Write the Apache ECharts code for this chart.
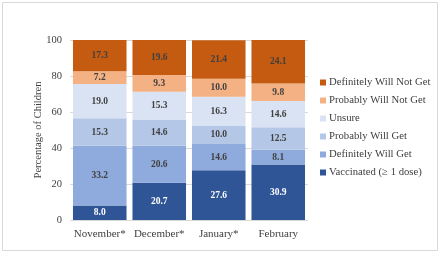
<!DOCTYPE html>
<html><head><meta charset="utf-8">
<script src="https://cdn.jsdelivr.net/npm/echarts@6/dist/echarts.min.js"></script>
<style>html,body{margin:0;padding:0;background:#fff}#c{width:440px;height:253px}</style>
</head><body><div id="c"></div>
<script>
var categories = ['November*', 'December*', 'January*', 'February'];
var seriesNames = ['Vaccinated (\u2265 1 dose)', 'Definitely Will Get', 'Probably Will Get', 'Unsure', 'Probably Will Not Get', 'Definitely Will Not Get'];
var vaccinated = [8.0, 20.7, 27.6, 30.9];
var definitelyWillGet = [33.2, 20.6, 14.6, 8.1];
var probablyWillGet = [15.3, 14.6, 10.0, 12.5];
var unsure = [19.0, 15.3, 16.3, 14.6];
var probablyWillNotGet = [7.2, 9.3, 10.0, 9.8];
var definitelyWillNotGet = [17.3, 19.6, 21.4, 24.1];
var yTicks = [0, 20, 40, 60, 80, 100];

var values = [vaccinated, definitelyWillGet, probablyWillGet, unsure, probablyWillNotGet, definitelyWillNotGet];
var colors = ['#2F5597', '#8FAADC', '#B4C7E7', '#DAE3F3', '#F4B183', '#C55A11'];
var labelColors = ['#ffffff', '#404040', '#404040', '#404040', '#404040', '#404040'];
var font = '"Liberation Serif", "DejaVu Serif", serif';

var chart = echarts.init(document.getElementById('c'));
chart.setOption({
  animation: false,
  textStyle: {fontFamily: font},
  graphic: [{type: 'rect', shape: {x: 2.5, y: 2.5, width: 435, height: 248}, style: {fill: 'none', stroke: '#d9d9d9', lineWidth: 1}}],
  grid: {left: 70, right: 132, top: 40, bottom: 33},
  legend: {
    orient: 'vertical', left: 315, top: 72,
    data: seriesNames.slice().reverse(),
    itemWidth: 6, itemHeight: 6, itemGap: 7,
    icon: 'rect',
    textStyle: {fontFamily: font, fontSize: 10.7, color: '#404040', padding: [0, 0, 0, -2]}
  },
  xAxis: {
    type: 'category', data: categories,
    axisLine: {show: false}, axisTick: {show: false},
    axisLabel: {interval: 0, fontFamily: font, fontSize: 11, color: '#404040', margin: 9}
  },
  yAxis: {
    type: 'value', min: 0, max: 100, interval: 20,
    name: 'Percentage of Children', nameLocation: 'middle', nameGap: 26, nameMoveOverlap: false,
    nameTextStyle: {fontFamily: font, fontSize: 10.5, color: '#404040'},
    axisLabel: {fontFamily: font, fontSize: 10.5, color: '#404040', margin: 8},
    splitLine: {lineStyle: {color: '#d9d9d9', width: 1}}
  },
  series: values.map(function (v, i) {
    return {
      name: seriesNames[i], type: 'bar', stack: 'all', data: v,
      barWidth: '90%',
      itemStyle: {color: colors[i]},
      label: {show: true, position: 'inside', formatter: function (p) { return p.value.toFixed(1); },
        fontFamily: font, fontSize: 9.5, fontWeight: 'bold', color: labelColors[i]}
    };
  })
});
</script></body></html>
